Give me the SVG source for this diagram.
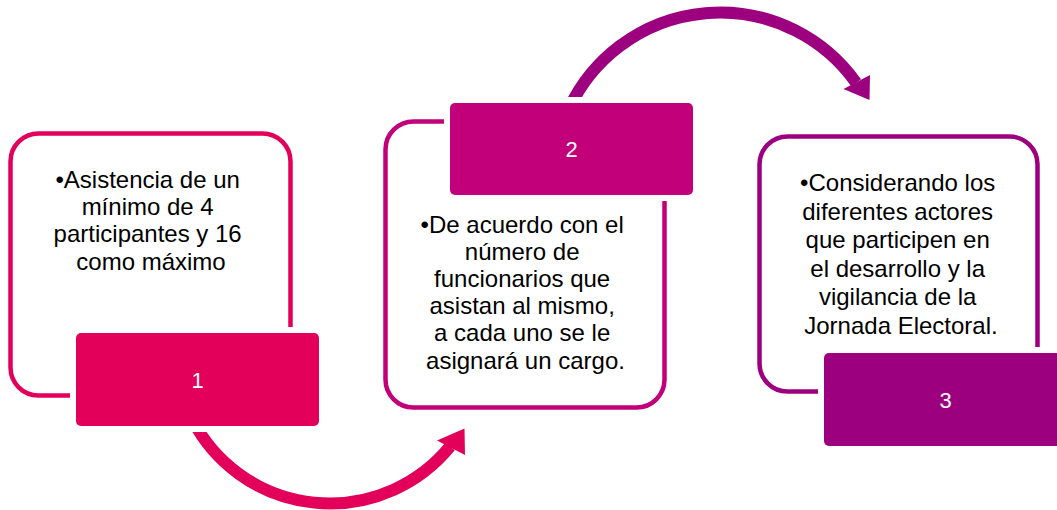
<svg xmlns="http://www.w3.org/2000/svg" width="1057" height="510" viewBox="0 0 1057 510">
  <style>
    .frame { fill: #ffffff; stroke-width: 4.5; }
    .gap { fill: #ffffff; }
    .body { font-family: "Liberation Sans", Arial, sans-serif; font-size: 24px; fill: #000000; text-anchor: middle; }
    .num { font-family: "Liberation Sans", Arial, sans-serif; font-size: 22px; fill: #ffffff; text-anchor: middle; }
    .arc { fill: none; stroke-width: 12; }
  </style>
  <rect width="1057" height="510" fill="#ffffff"/>

  <g id="connectors">
    <path class="arc" stroke="#E3005B" d="M192.5,420 A155,155 0 0 0 450.1,446.4"/>
    <polygon fill="#E3005B" points="464.5,428.5 437,440.5 465,455"/>
    <path class="arc" stroke="#9C007F" d="M569.3,108 A166.8,166.8 0 0 1 856.1,82.8"/>
    <polygon fill="#9C007F" points="870,75 843.5,89 869.5,100"/>
  </g>

  <g id="node1">
    <rect class="frame" stroke="#E3005B" x="10.5" y="133.5" width="280" height="262" rx="28"/>
    <text class="body">
      <tspan x="151" y="188">•Asistencia de un</tspan>
      <tspan x="151" y="215.2">mínimo de 4</tspan>
      <tspan x="151" y="242.4">participantes y 16</tspan>
      <tspan x="151" y="269.6">como máximo</tspan>
    </text>
    <rect class="gap" x="70" y="327" width="255" height="105" rx="9"/>
    <rect fill="#E3005B" x="76" y="333" width="243" height="93" rx="5"/>
    <text class="num" x="197.5" y="388">1</text>
  </g>

  <g id="node2">
    <rect class="frame" stroke="#C1007A" x="385.5" y="121.5" width="279" height="286" rx="28"/>
    <text class="body">
      <tspan x="525.5" y="232.5">•De acuerdo con el</tspan>
      <tspan x="525.5" y="259.7">número de</tspan>
      <tspan x="525.5" y="286.9">funcionarios que</tspan>
      <tspan x="525.5" y="314.1">asistan al mismo,</tspan>
      <tspan x="525.5" y="341.3">a cada uno se le</tspan>
      <tspan x="525.5" y="368.5">asignará un cargo.</tspan>
    </text>
    <rect class="gap" x="444" y="97" width="255" height="104" rx="9"/>
    <rect fill="#C1007A" x="450" y="103" width="243" height="92" rx="5"/>
    <text class="num" x="571.5" y="157">2</text>
  </g>

  <g id="node3">
    <rect class="frame" stroke="#9D007E" x="759.5" y="136.5" width="278" height="255" rx="28"/>
    <text class="body">
      <tspan x="901" y="191">•Considerando los</tspan>
      <tspan x="901" y="219.5">diferentes actores</tspan>
      <tspan x="901" y="248">que participen en</tspan>
      <tspan x="901" y="276.5">el desarrollo y la</tspan>
      <tspan x="901" y="305">vigilancia de la</tspan>
      <tspan x="901" y="333.5">Jornada Electoral.</tspan>
    </text>
    <rect class="gap" x="818" y="347" width="255" height="105" rx="9"/>
    <rect fill="#9D007E" x="824" y="353" width="243" height="93" rx="5"/>
    <text class="num" x="945.5" y="408">3</text>
  </g>
</svg>
